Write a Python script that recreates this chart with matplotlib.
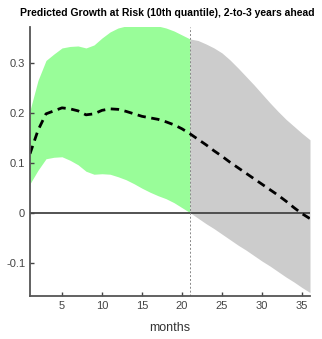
import matplotlib
matplotlib.use('Agg')
import matplotlib.pyplot as plt

# months on the horizontal axis
months = list(range(1, 37))

# median forecast (dashed line)
mediana = [0.118, 0.165, 0.198, 0.204, 0.210, 0.208, 0.204, 0.196, 0.198, 0.205,
           0.208, 0.207, 0.203, 0.198, 0.193, 0.190, 0.187, 0.182, 0.176, 0.168,
           0.158, 0.147, 0.136, 0.124, 0.113, 0.101, 0.090, 0.079, 0.068, 0.057,
           0.046, 0.035, 0.023, 0.010, -0.002, -0.012]

# upper edge of the band
superior = [0.205, 0.265, 0.305, 0.318, 0.330, 0.333, 0.334, 0.330, 0.336, 0.350,
            0.362, 0.370, 0.374, 0.376, 0.376, 0.375, 0.374, 0.370, 0.364, 0.356,
            0.348, 0.345, 0.338, 0.330, 0.320, 0.306, 0.290, 0.273, 0.256, 0.238,
            0.220, 0.203, 0.187, 0.173, 0.159, 0.146]

# lower edge of the band
inferior = [0.058, 0.085, 0.108, 0.111, 0.112, 0.105, 0.096, 0.083, 0.077, 0.078,
            0.077, 0.072, 0.066, 0.058, 0.049, 0.041, 0.034, 0.028, 0.020, 0.010,
            0.000, -0.011, -0.022, -0.032, -0.043, -0.054, -0.065, -0.075, -0.086, -0.097,
            -0.107, -0.118, -0.129, -0.139, -0.150, -0.160]

corte = 21  # last in-sample month
xticks = [5, 10, 15, 20, 25, 30, 35]
yticks = [-0.1, 0, 0.1, 0.2, 0.3]
yticklabels = ['-0.1', '0', '0.1', '0.2', '0.3']

plt.rcParams['font.family'] = ['Liberation Sans', 'DejaVu Sans']

fig = plt.figure(figsize=(3.22, 3.39), dpi=100)
ax = fig.add_axes([30 / 322, 43 / 339, 280 / 322, 269 / 339])

k = months.index(corte) + 1
ax.fill_between(months[:k], inferior[:k], superior[:k], color='#99fd99', linewidth=0)
ax.fill_between(months[k - 1:], inferior[k - 1:], superior[k - 1:], color='#cccccc', linewidth=0)
ax.axhline(0, color='#444444', linewidth=1.3)
ax.axvline(corte, color='#888888', linewidth=0.7, linestyle=(0, (2, 2)))
ax.plot(months, mediana, color='black', linewidth=2, linestyle=(0, (3, 2)))

ax.set_xlim(1, 36)
ax.set_ylim(-0.167, 0.372)
ax.set_xticks(xticks)
ax.set_yticks(yticks)
ax.set_yticklabels(yticklabels)
ax.tick_params(direction='in', length=3, width=1, colors='#444444', labelcolor='#444444', labelsize=8)
ax.spines['top'].set_visible(False)
ax.spines['right'].set_visible(False)
ax.spines['left'].set_color('#555555')
ax.spines['bottom'].set_color('#555555')
ax.spines['left'].set_linewidth(1.3)
ax.spines['bottom'].set_linewidth(1.3)
ax.set_xlabel('months', fontsize=9, color='#333333', labelpad=8)
fig.text(0.52, 0.962, 'Predicted Growth at Risk (10th quantile), 2-to-3 years ahead',
         ha='center', va='center', fontsize=7.5, fontweight='bold')

plt.savefig('out.png', dpi=100)
